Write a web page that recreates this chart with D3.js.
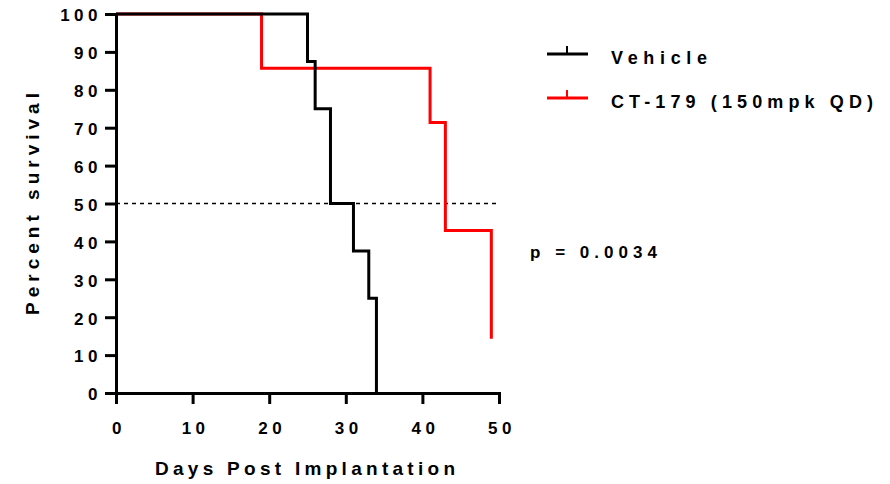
<!DOCTYPE html>
<html>
<head>
<meta charset="utf-8">
<script src="https://cdn.jsdelivr.net/npm/d3@7"></script>
<style>
  body { margin: 0; background: #fff; }
  text { font-family: "Liberation Sans", Arial, sans-serif; font-weight: bold; fill: #000; }
</style>
</head>
<body>
<script>
const width = 890;
const height = 484;

// Kaplan-Meier steps
const vehicle_days = [0, 25, 26, 28, 31, 33, 34];
const vehicle_surv = [100, 87.5, 75, 50, 37.5, 25, 0];
const ct_days = [0, 19, 41, 43, 49];
const ct_surv = [100, 85.7, 71.4, 42.9, 14.3];
const series_names = ['Vehicle', 'CT-179 (150mpk QD)'];
const series_colors = ['#000000', '#ff0000'];
const x_ticks = [0, 10, 20, 30, 40, 50];
const y_ticks = [0, 10, 20, 30, 40, 50, 60, 70, 80, 90, 100];
const median_line = 50;
const p_label = 'p = 0.0034';

const x = d3.scaleLinear().domain([0, 50]).range([116, 499]);
const y = d3.scaleLinear().domain([0, 100]).range([393, 14]);

const svg = d3.select('body')
    .append('svg')
    .attr('width', width)
    .attr('height', height);

// dotted 50% line
svg.append('line')
    .attr('x1', x(0))
    .attr('x2', x(50))
    .attr('y1', y(median_line))
    .attr('y2', y(median_line))
    .attr('stroke', 'black')
    .attr('stroke-width', 1.5)
    .attr('stroke-dasharray', '4,4');

const line = d3.line()
    .x(d => x(d[0]))
    .y(d => y(d[1]))
    .curve(d3.curveStepAfter);

const ct_points = ct_days.map((d, i) => [d, ct_surv[i]]);
const vehicle_points = vehicle_days.map((d, i) => [d, vehicle_surv[i]]);

svg.append('path')
    .attr('d', line(ct_points))
    .attr('fill', 'none')
    .attr('stroke', series_colors[1])
    .attr('stroke-width', 3);
svg.append('path')
    .attr('d', line(vehicle_points))
    .attr('fill', 'none')
    .attr('stroke', series_colors[0])
    .attr('stroke-width', 3);

// axes
const y_axis = svg.append('g')
    .attr('transform', `translate(${x(0)},0)`)
    .call(d3.axisLeft(y).tickValues(y_ticks).tickSize(11).tickSizeOuter(0).tickPadding(7));
const x_axis = svg.append('g')
    .attr('transform', `translate(0,${y(0)})`)
    .call(d3.axisBottom(x).tickValues(x_ticks).tickSize(11).tickSizeOuter(0).tickPadding(18));

[y_axis, x_axis].forEach(g => {
    g.select('.domain').attr('stroke-width', 3).attr('stroke-linecap', 'square');
    g.selectAll('.tick line').attr('stroke-width', 3);
    g.selectAll('.tick text')
        .style('font-size', '17px')
        .style('font-family', '"Liberation Sans", Arial, sans-serif')
        .style('font-weight', 'bold')
        .style('letter-spacing', '4.5px')
        .attr('fill', 'black');
});
y_axis.selectAll('.tick text').attr('dx', '4px').attr('dy', '0.4em');
x_axis.selectAll('.tick text').attr('dx', '2.5px');

// axis titles
svg.append('text')
    .attr('x', 155)
    .attr('y', 475)
    .attr('textLength', 300)
    .attr('lengthAdjust', 'spacing')
    .style('font-size', '19px')
    .text('Days Post Implantation');

svg.append('text')
    .attr('transform', 'translate(39,315) rotate(-90)')
    .attr('textLength', 222)
    .attr('lengthAdjust', 'spacing')
    .style('font-size', '19px')
    .text('Percent survival');

// legend
const legend = svg.append('g');
series_names.forEach((name, i) => {
    const ly = 54 + i * 44;
    const row = legend.append('g');
    row.append('line')
        .attr('x1', 547).attr('x2', 588)
        .attr('y1', ly).attr('y2', ly)
        .attr('stroke', series_colors[i])
        .attr('stroke-width', 3);
    row.append('line')
        .attr('x1', 567).attr('x2', 567)
        .attr('y1', ly).attr('y2', ly - 8)
        .attr('stroke', series_colors[i])
        .attr('stroke-width', 2);
    row.append('text')
        .attr('x', 611)
        .attr('y', ly + 10)
        .attr('textLength', i === 0 ? 96 : 262)
        .attr('lengthAdjust', 'spacing')
        .style('font-size', '18px')
        .text(name);
});

svg.append('text')
    .attr('x', 530)
    .attr('y', 258)
    .attr('textLength', 127)
    .attr('lengthAdjust', 'spacing')
    .style('font-size', '17px')
    .text(p_label);
</script>
</body>
</html>
